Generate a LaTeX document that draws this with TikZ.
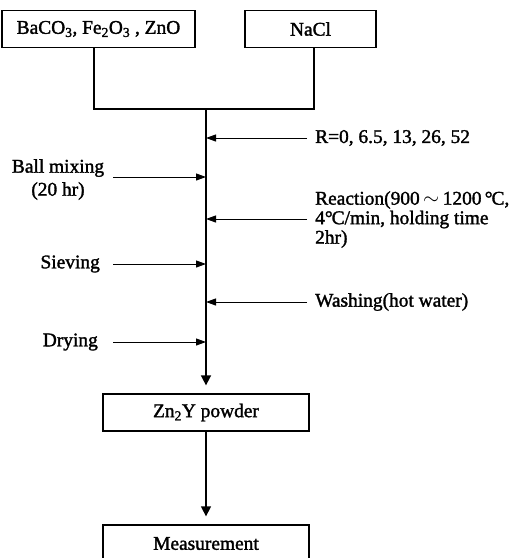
\documentclass[tikz,border=0pt]{standalone}
\usepackage{fontspec}
\setmainfont{Liberation Serif}[FakeBold=1.6]
\usetikzlibrary{arrows.meta}
\newcommand{\degC}{\textdegree\kern-0.05em C}
\begin{document}
\begin{tikzpicture}[x=1pt,y=-1pt,
  every node/.style={font=\fontsize{19.4}{23}\selectfont, inner sep=0pt},
  box/.style={draw, line width=1.3pt, minimum height=37pt},
  feed/.style={line width=1pt, -{Triangle[length=10pt,width=7pt]}},
  mainline/.style={line width=2pt},
  downarrow/.style={line width=1.6pt, -{Triangle[length=10pt,width=10pt]}, shorten >=8pt},
  joinline/.style={line width=1.3pt}]
\useasboundingbox (0,0) rectangle (513,558);
% boxes
\node[box, minimum width=193pt] (b1) at (98.5,29) {BaCO\textsubscript{3}, Fe\textsubscript{2}O\textsubscript{3} , ZnO};
\node[box, minimum width=131pt] (b2) at (310.5,29) {NaCl};
\node[box, minimum width=206pt] (b3) at (206,412.5) {Zn\textsubscript{2}Y powder};
\node[box, minimum width=206pt] (b4) at (206,543.5) {Measurement};
% junction
\coordinate (jl) at (94,109);
\coordinate (jr) at (314,109);
\coordinate (jm) at (206,109);
\draw[joinline] (jl |- b1.south) -- (jl) -- (jr) -- (jr |- b2.south);
\draw[mainline] (jm) -- (206,380);
\draw[downarrow] (jm) -- (b3.north);
\draw[downarrow, line width=1.3pt] (b3.south) -- (b4.north);
% right-side inputs
\coordinate (r1) at (307,138);
\coordinate (r2) at (307,219);
\coordinate (r3) at (307,302);
\draw[feed] (r1) -- (r1 -| jm);
\draw[feed] (r2) -- (r2 -| jm);
\draw[feed] (r3) -- (r3 -| jm);
\node[anchor=west] (tR) at (315,138) {R=0, 6.5, 13, 26, 52};
\node[anchor=west, align=left, font=\fontsize{19.4}{19.5}\selectfont] (tReact) at (315,219.5)
  {Reaction(900$\,\sim\,$1200\,\degC,\\4\degC/min, holding time\\2hr)};
\node[anchor=west] (tWash) at (315,302) {Washing(hot water)};
% left-side steps
\coordinate (l1) at (113,177);
\coordinate (l2) at (113,264);
\coordinate (l3) at (113,342);
\draw[feed] (l1) -- (l1 -| jm);
\draw[feed] (l2) -- (l2 -| jm);
\draw[feed] (l3) -- (l3 -| jm);
\node[align=center] (tBall) at (58,179.5) {Ball mixing\\(20 hr)};
\node[anchor=east] (tSieve) at (100,264) {Sieving};
\node[anchor=east] (tDry) at (98,342) {Drying};
\end{tikzpicture}
\end{document}
